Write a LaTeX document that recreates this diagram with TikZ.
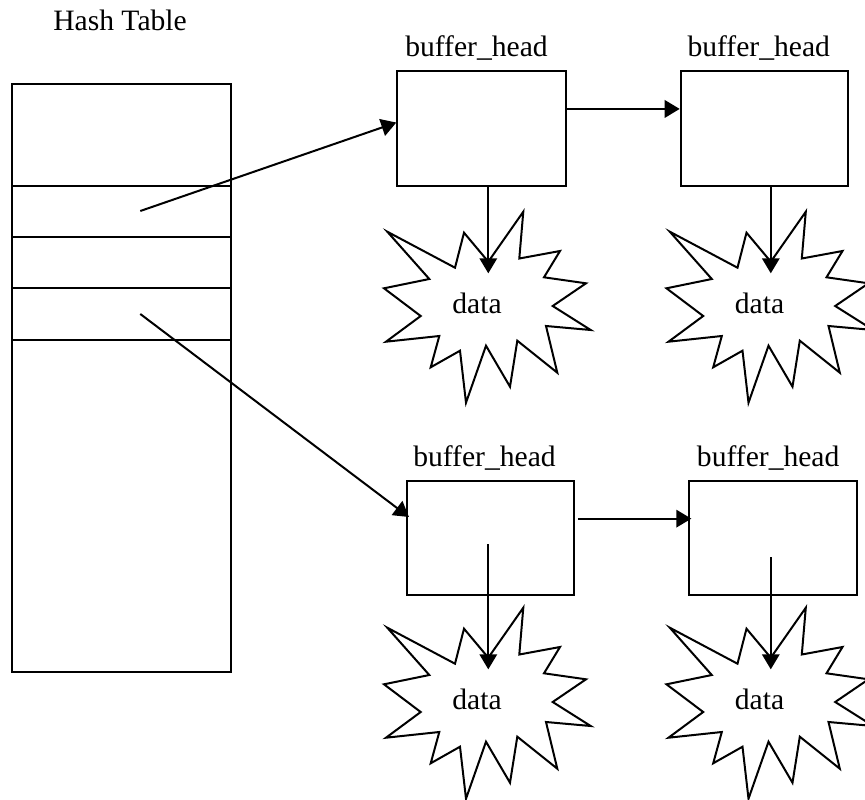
\documentclass[tikz,border=0pt]{standalone}
\usepackage{fontspec}
\setmainfont{Liberation Serif}
\usetikzlibrary{arrows.meta,calc}

% starburst outline with its "data" label and the point where a pointer lands
\newcommand{\burst}[2]{%
  \begin{scope}[shift={#2}]
    \draw[outline] (35.8,-93.3) -- (31.8,-46.5) -- (72.5,-54) -- (56.5,-27.7)
      -- (98.5,-21.7) -- (65.2,1) -- (103.2,25) -- (58.5,21) -- (69.8,67.7)
      -- (29.8,35.7) -- (22.5,81.7) -- (-1.5,40.7) -- (-21.5,97.7) -- (-27.5,45.7)
      -- (-56.8,62.3) -- (-48.2,31) -- (-101.5,36.7) -- (-66.8,11) -- (-103.5,-16.7)
      -- (-58.2,-26) -- (-100.2,-73.3) -- (-32.5,-37.3) -- (-23.5,-72.3)
      -- (0.8,-43.3) -- cycle;
    \node[lbl, anchor=base] (#1) at (-10.5,8) {data};
    \coordinate (#1tip) at (0.8,-31.7);
  \end{scope}}

\begin{document}
\begin{tikzpicture}[x=0.75pt, y=-0.75pt,
  outline/.style={line width=1.5pt, line join=miter},
  lbl/.style={inner sep=0pt, font=\fontsize{22.2}{26}\selectfont},
  box/.style={draw, line width=1.5pt, inner sep=0pt},
  link/.style={line width=1.5pt, -{Triangle[length=11.25pt,width=13.1pt]}}]

\useasboundingbox (0,0) rectangle (865,800);
\clip (0,0) rectangle (865,800);

% hash table with its slots
\node[lbl, anchor=base west] (ttl) at (53,30.7) {Hash Table};
\node[box, minimum width=163.65pt, minimum height=440.55pt] (ht) at (121.4,378) {};
\foreach \y in {185.7,237,288.3,339.7}
  \draw[outline] (ht.west |- 0,\y) -- (ht.east |- 0,\y);
\coordinate (s1) at (140.3,211);
\coordinate (s3) at (140.3,314);

% buffer heads
\node[lbl, anchor=base west] (l1) at (405,56.7) {buffer\_head};
\node[lbl, anchor=base west] (l2) at (687.3,56.7) {buffer\_head};
\node[lbl, anchor=base west] (l3) at (413,466) {buffer\_head};
\node[lbl, anchor=base west] (l4) at (696.7,466) {buffer\_head};
\node[box, minimum width=126.3pt, minimum height=86.5pt] (b1) at (481.5,128.65) {};
\node[box, minimum width=125.25pt, minimum height=86.5pt] (b2) at (764.2,128.65) {};
\node[box, minimum width=125.5pt, minimum height=85.95pt] (b3) at (490.35,538) {};
\node[box, minimum width=125.55pt, minimum height=85.95pt] (b4) at (773,538) {};

% data blocks
\burst{d1}{(487.5,305)}
\burst{d2}{(770,305)}
\burst{d3}{(487.5,701)}
\burst{d4}{(770,701)}

% pointers from the table into the chains
\draw[link] (s1) -- ($(b1.north west)!0.448!(b1.south west)$);
\draw[link] (s3) -- ($(b3.north west)!0.32!(b3.south west)+(3.3,0)$);

% chain links
\draw[link] ($(b1.north east)!0.332!(b1.south east)$) -- ($(b2.north west)!0.332!(b2.south west)$);
\draw[link] ($(b3.north east)!0.334!(b3.south east)+(3.3,0)$) -- ($(b4.north west)!0.334!(b4.south west)+(3,0)$);

% buffer head to data
\coordinate (p3) at ($(b3.north)!0.552!(b3.south)$);
\coordinate (p4) at ($(b4.north)!0.663!(b4.south)$);
\draw[link] (d1tip |- b1.south) -- (d1tip);
\draw[link] (d2tip |- b2.south) -- (d2tip);
\draw[link] (d3tip |- p3) -- (d3tip);
\draw[link] (d4tip |- p4) -- (d4tip);
\end{tikzpicture}
\end{document}
